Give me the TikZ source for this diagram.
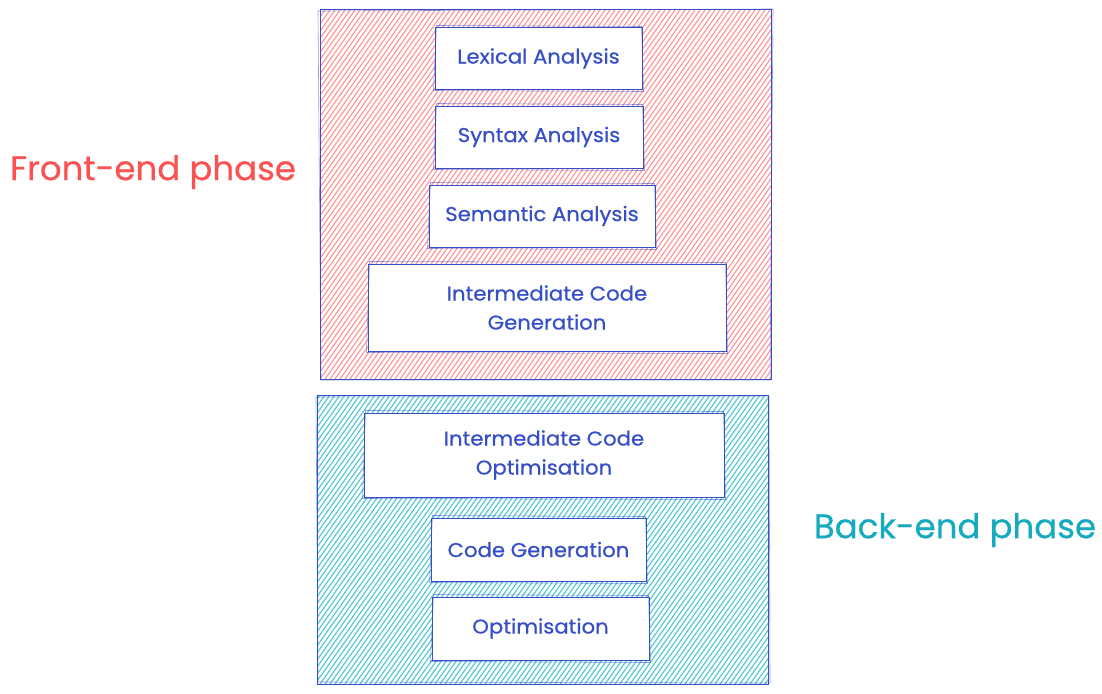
\documentclass[tikz,border=0pt]{standalone}
\usepackage{fontspec}
\setmainfont{Poppins}
\newfontfamily\lblfont{Poppins}[FakeBold=0.6, FakeStretch=1.06]
\newfontfamily\bigfont{Poppins}[FakeBold=0.5]
\definecolor{sk}{HTML}{364FC7}
\definecolor{hred}{HTML}{FF8787}
\definecolor{hteal}{HTML}{3BC0D0}
\definecolor{tred}{HTML}{FA5252}
\definecolor{tteal}{HTML}{15AABF}
\tikzset{
  stage/.style={draw=sk, line width=1pt, fill=white, text=sk, align=center,
    font=\lblfont\fontsize{20}{29}\selectfont, inner sep=0pt},
  phaselabel/.style={font=\bigfont\fontsize{34}{40}\selectfont},
  border/.style={draw=sk, line width=1pt},
  ghost/.style={draw=sk, line width=0.6pt, opacity=0.55},
  hatchr/.style={hred, line width=1.1pt, opacity=0.9},
  hatcht/.style={hteal, line width=1.1pt, opacity=0.9}
}
\begin{document}
\begin{tikzpicture}[x=1pt,y=-1pt]
\useasboundingbox[fill=white] (0,0) rectangle (1102,693);
% front-end container
\coordinate (fa) at (320,10);
\coordinate (fb) at (771,379);
\begin{scope}
  \clip (fa) rectangle (fb);
  \foreach \i in {40,45,...,780} \draw[hatchr] (\i,379) -- ++(260,-369);
\end{scope}
\draw[border] (fa) rectangle (fb);
\draw[ghost] ([shift={(-2,1)}]fa) -- ([shift={(2,-1)}]fb |- fa) -- ([shift={(-1,1)}]fb) -- ([shift={(1,1)}]fa |- fb) -- cycle;
% back-end container
\coordinate (ba) at (317,395);
\coordinate (bb) at (768,684);
\begin{scope}
  \clip (ba) rectangle (bb);
  \foreach \i in {110,115,...,780} \draw[hatcht] (\i,684) -- ++(205,-289);
\end{scope}
\draw[border] (ba) rectangle (bb);
\draw[ghost] ([shift={(-1,2)}]ba) -- ([shift={(1,1)}]bb |- ba) -- ([shift={(2,-1)}]bb) -- ([shift={(1,-2)}]ba |- bb) -- cycle;
% stages
\node[stage, minimum width=207pt, minimum height=61pt] (lex) at (538.5,58.5) {Lexical Analysis};
\node[stage, minimum width=208pt, minimum height=62pt] (syn) at (539,137) {Syntax Analysis};
\node[stage, minimum width=226pt, minimum height=62pt] (sem) at (542,216) {Semantic Analysis};
\node[stage, minimum width=358pt, minimum height=87pt] (icg) at (547,307.5) {Intermediate Code\\Generation};
\node[stage, minimum width=360pt, minimum height=84pt] (ico) at (544,455) {Intermediate Code\\Optimisation};
\node[stage, minimum width=215pt, minimum height=63pt] (cg) at (538.5,549.5) {Code Generation};
\node[stage, minimum width=217pt, minimum height=63pt] (opt) at (540.5,628.5) {Optimisation};
\foreach \n in {lex,syn,sem,icg,ico,cg,opt}
  \draw[ghost] ([shift={(2,-2)}]\n.north west) -- ([shift={(-1,-1)}]\n.north east) -- ([shift={(1,2)}]\n.south east) -- ([shift={(-1,1)}]\n.south west) -- cycle;
% phase labels
\node[phaselabel, text=tred] (front) at (153,172) {Front-end phase};
\node[phaselabel, text=tteal] (back) at (955,530) {Back-end phase};
\end{tikzpicture}
\end{document}
